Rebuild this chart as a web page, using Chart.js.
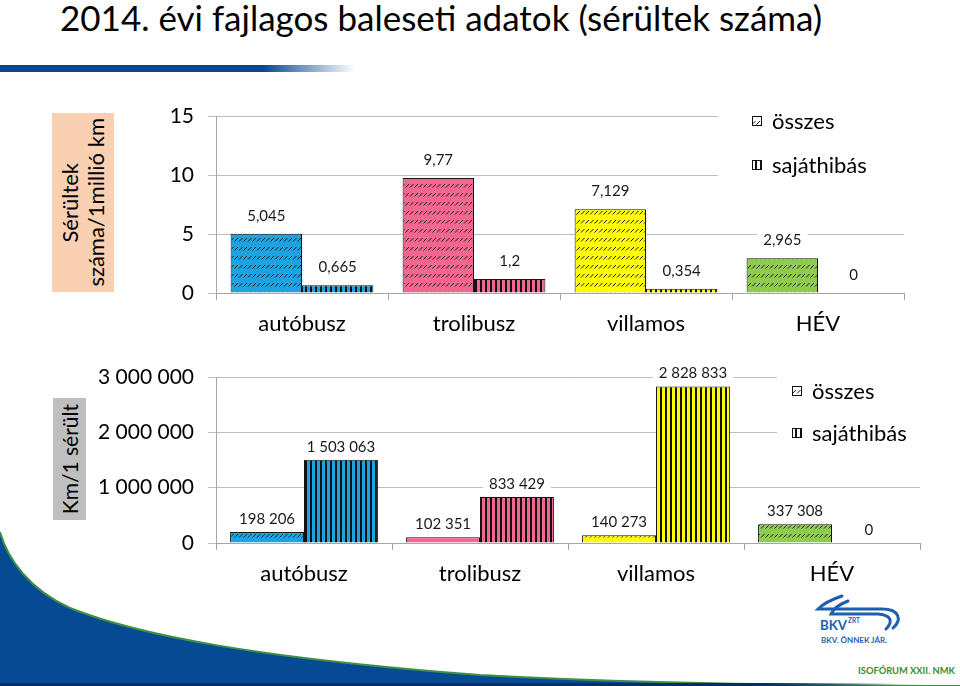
<!DOCTYPE html>
<html lang="hu">
<head>
<meta charset="utf-8">
<title>2014. évi fajlagos baleseti adatok</title>
<script src="https://cdn.jsdelivr.net/npm/chart.js@4.4.1/dist/chart.umd.min.js"></script>
<style>
  html, body { margin: 0; padding: 0; background: #fff; }
  body { width: 960px; height: 686px; position: relative; overflow: hidden; font-family: Lato, "Open Sans", sans-serif; }
  #deco { position: absolute; left: 0; top: 0; }
  #title { position: absolute; left: 60px; top: -3px; font-size: 35px; line-height: 40px; color: #000; white-space: nowrap; }
  #rule { position: absolute; left: 0; top: 65px; width: 355px; height: 7px;
          background: linear-gradient(to right, #0b4590 0%, #0b4590 74%, rgba(11,69,144,0) 100%); }
  canvas { position: absolute; left: 0; }
  #topChart { top: 90px; }
  #bottomChart { top: 350px; }
  .ytitle { position: absolute; display: flex; align-items: center; justify-content: center; color: #000; }
  .ytitle span { writing-mode: vertical-rl; transform: rotate(180deg); text-align: center; white-space: nowrap; }
  #ytitleTop { left: 52px; top: 113px; width: 62px; height: 179px; background: #fad0b3; font-size: 22px; line-height: 26px; }
  #ytitleBottom { left: 53px; top: 398px; width: 33px; height: 122px; background: #bfbfbf; font-size: 21px; line-height: 24px; }
</style>
</head>
<body>
<svg id="deco" width="960" height="686">
  <defs>
    <linearGradient id="baseFade" x1="0" x2="1" y1="0" y2="0">
      <stop offset="0" stop-color="#042f6b"/>
      <stop offset="0.85" stop-color="#042f6b"/>
      <stop offset="1" stop-color="#042f6b" stop-opacity="0"/>
    </linearGradient>
  </defs>
  <path d="M0,532 C8,560 30,590 70,608 C140,636 260,658 480,675 C650,684 800,685 960,686 L0,686 Z" fill="#064a93"/>
  <path d="M0,532 C8,560 30,590 70,608 C140,636 260,658 480,675 C650,684 800,685 960,686" fill="none" stroke="#3f8f46" stroke-width="2"/>
  <rect x="0" y="683" width="900" height="3" fill="url(#baseFade)"/>
  <g fill="none" stroke="#1d5fae" stroke-width="3" stroke-linecap="round">
    <path d="M842,596 C830,600 822,605 818,609 L882,609 C900,609 902,620 893,628"/>
    <path d="M848,601 C838,605 833,609 831,614 L878,614 C892,615 893,622 886,629"/>
  </g>
  <text x="820" y="630" font-family="Lato, sans-serif" font-weight="bold" font-size="13" fill="#1d5fae" textLength="27" lengthAdjust="spacingAndGlyphs">BKV</text>
  <text x="848" y="623" font-family="Lato, sans-serif" font-weight="bold" font-size="6.5" fill="#1d5fae">ZRT</text>
  <text x="821" y="643" font-family="Lato, sans-serif" font-weight="bold" font-size="7.5" fill="#1d5fae" textLength="66" lengthAdjust="spacingAndGlyphs">BKV. ÖNNEK JÁR.</text>
  <text x="858" y="674" font-family="Lato, sans-serif" font-weight="bold" font-size="9.5" fill="#3a8c2c" textLength="97" lengthAdjust="spacingAndGlyphs">ISOFÓRUM XXII. NMK</text>
</svg>

<div id="title">2014. évi fajlagos baleseti adatok (sérültek száma)</div>
<div id="rule"></div>
<div class="ytitle" id="ytitleTop"><span>Sérültek<br>száma/1millió km</span></div>
<div class="ytitle" id="ytitleBottom"><span>Km/1 sérült</span></div>

<canvas id="topChart" width="960" height="260"></canvas>
<canvas id="bottomChart" width="960" height="250"></canvas>

<script>
// kategóriák és sorozatok
const categories = ['autóbusz', 'trolibusz', 'villamos', 'HÉV'];
const seriesNames = ['összes', 'sajáthibás'];

// sérültek száma / 1 millió km
const rateTotal = [5.045, 9.77, 7.129, 2.965];
const rateOwnFault = [0.665, 1.2, 0.354, 0];
const rateTicks = [0, 5, 10, 15];

// km / 1 sérült
const kmTotal = [198206, 102351, 140273, 337308];
const kmOwnFault = [1503063, 833429, 2828833, 0];
const kmTicks = [0, 1000000, 2000000, 3000000];

const categoryColors = ['#1ea3e2', '#f2668f', '#ffff00', '#8fcb4f'];

Chart.defaults.font.family = 'Lato, "Open Sans", sans-serif';
Chart.defaults.color = '#000';

const fmtDecimal = v => String(v).replace('.', ',');
const fmtThousands = v => String(Math.round(v)).replace(/\B(?=(\d{3})+(?!\d))/g, ' ');

// "dashed upward diagonal" fill like the Excel pattern
function diagPattern(color) {
  const c = document.createElement('canvas');
  c.width = 9; c.height = 9;
  const g = c.getContext('2d');
  g.fillStyle = color;
  g.fillRect(0, 0, 9, 9);
  g.strokeStyle = '#1c1c1c';
  g.lineWidth = 1;
  g.beginPath();
  [0.5, 5].forEach(x => { g.moveTo(x, 7.5); g.lineTo(x + 3.5, 4); });
  g.stroke();
  return g.createPattern(c, 'repeat');
}

// vertical stripes
function stripePattern(color) {
  const c = document.createElement('canvas');
  c.width = 5; c.height = 5;
  const g = c.getContext('2d');
  g.fillStyle = color;
  g.fillRect(0, 0, 5, 5);
  g.fillStyle = '#111';
  g.fillRect(0, 0, 2, 5);
  return g.createPattern(c, 'repeat');
}

// data labels with a white box behind them
const valueLabels = {
  id: 'valueLabels',
  afterDatasetsDraw(chart, args, opts) {
    const ctx = chart.ctx;
    ctx.save();
    ctx.font = opts.font;
    ctx.textAlign = 'center';
    ctx.textBaseline = 'middle';
    chart.data.datasets.forEach((ds, i) => {
      chart.getDatasetMeta(i).data.forEach((bar, j) => {
        const txt = opts.format(ds.data[j]);
        const w = ctx.measureText(txt).width + 12;
        const y = bar.y - opts.offset;
        ctx.fillStyle = '#fff';
        ctx.fillRect(bar.x - w / 2, y - 9, w, 17);
        ctx.fillStyle = '#1a1a1a';
        ctx.fillText(txt, bar.x, y);
      });
    });
    ctx.restore();
  }
};

// legend drawn inside the plot, on a white box
const boxLegend = {
  id: 'boxLegend',
  afterDraw(chart, args, opts) {
    const ctx = chart.ctx;
    const a = chart.chartArea;
    ctx.save();
    ctx.fillStyle = '#fff';
    ctx.fillRect(opts.x, opts.y, a.right - opts.x + 2, opts.h);
    ctx.font = opts.font;
    ctx.textBaseline = 'middle';
    ctx.textAlign = 'left';
    chart.data.datasets.forEach((ds, i) => {
      const cy = opts.rows[i];
      ctx.fillStyle = opts.swatches[i];
      ctx.fillRect(opts.swX, cy - 5, 10, 10);
      ctx.strokeStyle = '#111';
      ctx.lineWidth = 1;
      ctx.strokeRect(opts.swX + 0.5, cy - 4.5, 9, 9);
      ctx.fillStyle = '#000';
      ctx.fillText(ds.label, opts.swX + 20, cy + 1);
    });
    ctx.restore();
  }
};

function makeDatasets(total, own, catPct) {
  return [
    { label: seriesNames[0], data: total, backgroundColor: categoryColors.map(diagPattern),
      borderColor: '#151515', borderWidth: 1, categoryPercentage: catPct, barPercentage: 1 },
    { label: seriesNames[1], data: own, backgroundColor: categoryColors.map(stripePattern),
      borderColor: '#151515', borderWidth: 1, categoryPercentage: catPct, barPercentage: 1 }
  ];
}

function makeScales(ticks, fmt) {
  return {
    x: {
      grid: { offset: true, drawOnChartArea: false, drawTicks: true, tickLength: 7, color: '#a6a6a6' },
      border: { color: '#a6a6a6' },
      ticks: { color: '#000', font: { size: 22 }, padding: 11, maxRotation: 0 },
      afterFit: s => { s.height = 57; }
    },
    y: {
      min: ticks[0],
      max: ticks[ticks.length - 1],
      ticks: { stepSize: ticks[1] - ticks[0], color: '#000', font: { size: 21 }, padding: 14, callback: v => fmt(v) },
      grid: { color: '#bdbdbd', tickLength: 8 },
      border: { color: '#a6a6a6' },
      afterFit: s => { s.width = 216; }
    }
  };
}

const legendSwatches = [diagPattern('#ffffff'), stripePattern('#ffffff')];

new Chart(document.getElementById('topChart'), {
  type: 'bar',
  data: { labels: categories, datasets: makeDatasets(rateTotal, rateOwnFault, 0.83) },
  plugins: [valueLabels, boxLegend],
  options: {
    responsive: false,
    animation: false,
    layout: { padding: { top: 16, right: 56, left: 0, bottom: 0 } },
    scales: makeScales(rateTicks, fmtDecimal),
    plugins: {
      legend: { display: false },
      tooltip: { enabled: false },
      valueLabels: { font: '15px Lato, sans-serif', offset: 18, format: fmtDecimal },
      boxLegend: { x: 718, y: 6, h: 90, swX: 752, rows: [31, 75], swatches: legendSwatches, font: '22px Lato, sans-serif' }
    }
  }
});

new Chart(document.getElementById('bottomChart'), {
  type: 'bar',
  data: { labels: categories, datasets: makeDatasets(kmTotal, kmOwnFault, 0.84) },
  plugins: [valueLabels, boxLegend],
  options: {
    responsive: false,
    animation: false,
    layout: { padding: { top: 27, right: 40, left: 0, bottom: 0 } },
    scales: makeScales(kmTicks, fmtThousands),
    plugins: {
      legend: { display: false },
      tooltip: { enabled: false },
      valueLabels: { font: '15px Lato, sans-serif', offset: 13, format: fmtThousands },
      boxLegend: { x: 777, y: 16, h: 82, swX: 792, rows: [41, 83], swatches: legendSwatches, font: '22px Lato, sans-serif' }
    }
  }
});
</script>
</body>
</html>
